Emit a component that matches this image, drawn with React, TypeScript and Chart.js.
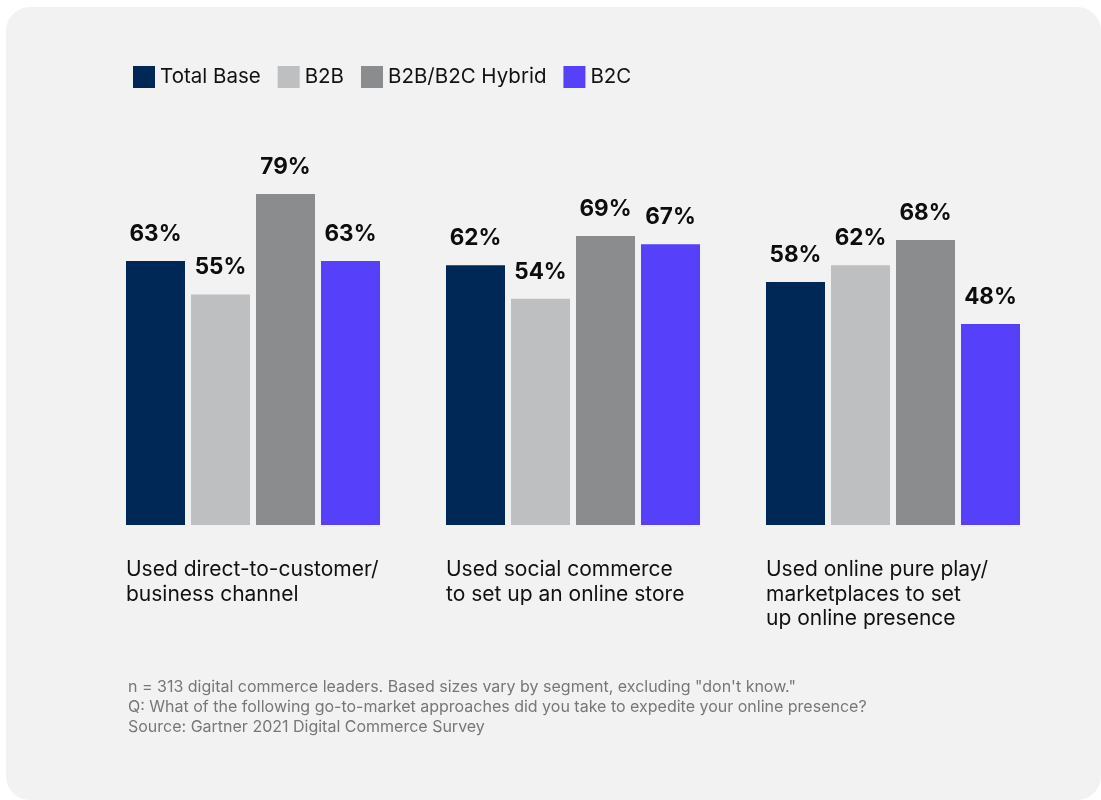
import { useEffect, useRef } from "react";
import { Chart, registerables } from "chart.js";

Chart.register(...registerables);

const categories: string[][] = [
  ["Used direct-to-customer/", "business channel"],
  ["Used social commerce", "to set up an online store"],
  ["Used online pure play/", "marketplaces to set", "up online presence"],
];
const seriesNames = ["Total Base", "B2B", "B2B/B2C Hybrid", "B2C"];
const totalBase = [63, 62, 58];
const b2b = [55, 54, 62];
const hybrid = [79, 69, 68];
const b2c = [63, 67, 48];
const seriesColors = ["#002856", "#BEBFC1", "#8B8C8E", "#5740FA"];
const footnotes = [
  'n = 313 digital commerce leaders. Based sizes vary by segment, excluding "don\'t know."',
  "Q: What of the following go-to-market approaches did you take to expedite your online presence?",
  "Source: Gartner 2021 Digital Commerce Survey",
];

const FONT = "Inter, 'Noto Sans', sans-serif";

const overlayPlugin = {
  id: "overlay",
  afterDatasetsDraw(chart: any) {
    const { ctx, chartArea } = chart;
    ctx.save();
    // value labels
    ctx.font = `bold 22.5px ${FONT}`;
    ctx.fillStyle = "#0d0d0d";
    ctx.textAlign = "center";
    ctx.textBaseline = "middle";
    chart.data.datasets.forEach((ds: any, di: number) => {
      const meta = chart.getDatasetMeta(di);
      meta.data.forEach((el: any, i: number) => {
        ctx.fillText(`${ds.data[i]}%`, el.x, el.y - 27);
      });
    });
    // category labels
    const meta0 = chart.getDatasetMeta(0);
    ctx.font = `21px ${FONT}`;
    ctx.fillStyle = "#111111";
    ctx.textAlign = "left";
    categories.forEach((lines, i) => {
      const el: any = meta0.data[i];
      const left = el.x - el.width / 2;
      lines.forEach((line, li) => {
        ctx.fillText(line, left, chartArea.bottom + 45 + li * 24.5);
      });
    });
    // footnotes
    const firstLeft = (meta0.data[0] as any).x - (meta0.data[0] as any).width / 2;
    ctx.font = `16px ${FONT}`;
    ctx.fillStyle = "#777777";
    footnotes.forEach((line, li) => {
      ctx.fillText(line, firstLeft + 2, chartArea.bottom + 162 + li * 20);
    });
    // legend
    ctx.font = `20.5px ${FONT}`;
    let x = 133;
    const yc = 77;
    chart.data.datasets.forEach((ds: any) => {
      ctx.fillStyle = ds.backgroundColor;
      ctx.fillRect(x, yc - 11, 22, 22);
      x += 27;
      ctx.fillStyle = "#111111";
      ctx.fillText(ds.label, x, yc);
      x += ctx.measureText(ds.label).width + 17;
    });
    ctx.restore();
  },
};

export default function App() {
  const ref = useRef<HTMLCanvasElement | null>(null);

  useEffect(() => {
    document.body.style.margin = "0";
    document.body.style.background = "#ffffff";
    if (!ref.current) return;
    const seriesData = [totalBase, b2b, hybrid, b2c];
    const chart = new Chart(ref.current, {
      type: "bar",
      data: {
        labels: categories.map((c) => c.join(" ")),
        datasets: seriesNames.map((name, i) => ({
          label: name,
          data: seriesData[i],
          backgroundColor: seriesColors[i],
          borderWidth: 0,
          categoryPercentage: 0.8125,
          barPercentage: 0.908,
        })),
      },
      options: {
        animation: false,
        responsive: false,
        layout: { padding: { left: 93, right: 48, top: 106, bottom: 275 } },
        scales: {
          x: { display: false },
          y: { display: false, min: 0, max: 100 },
        },
        plugins: {
          legend: { display: false },
          tooltip: { enabled: false },
        },
      },
      plugins: [overlayPlugin],
    });
    return () => chart.destroy();
  }, []);

  return (
    <div style={{ position: "relative", width: 1101, height: 800, overflow: "hidden" }}>
      <div
        style={{
          position: "absolute",
          left: 6,
          top: 7,
          width: 1095,
          height: 793,
          borderRadius: 24,
          background: "#f2f2f2",
        }}
      />
      <canvas
        ref={ref}
        width={1101}
        height={800}
        style={{ position: "absolute", left: 0, top: 0, width: 1101, height: 800 }}
      />
    </div>
  );
}
